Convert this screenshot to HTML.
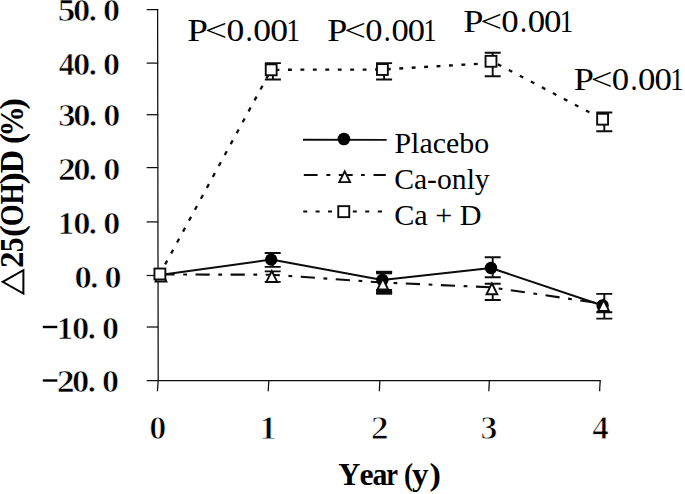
<!DOCTYPE html>
<html><head><meta charset="utf-8"><title>chart</title>
<style>html,body{margin:0;padding:0;background:#fff;}body{width:685px;height:494px;overflow:hidden;font-family:"Liberation Serif",serif;}svg{display:block;}</style>
</head><body>
<svg width="685" height="494" viewBox="0 0 685 494">
<rect width="685" height="494" fill="#fff"/>
<g stroke="#0c0c0c" stroke-width="1.25" fill="none">
<polyline points="157.6,9.0 158.2,380.6 157.4,391.3"/>
<line x1="146.7" y1="380.5" x2="600.8" y2="380.6"/>
<line x1="146.7" y1="9.6" x2="158.2" y2="9.6"/>
<line x1="146.7" y1="63.1" x2="158.2" y2="63.1"/>
<line x1="146.7" y1="114.7" x2="158.2" y2="114.7"/>
<line x1="146.7" y1="167.6" x2="158.2" y2="167.6"/>
<line x1="146.7" y1="221.9" x2="158.2" y2="221.9"/>
<line x1="146.7" y1="275.5" x2="158.2" y2="275.5"/>
<line x1="146.7" y1="327.0" x2="158.2" y2="327.0"/>
<line x1="268.8" y1="380.6" x2="268.2" y2="391.2"/>
<line x1="379.9" y1="380.6" x2="379.29999999999995" y2="391.2"/>
<line x1="489.4" y1="380.6" x2="488.79999999999995" y2="391.2"/>
<line x1="600.2" y1="380.6" x2="599.6" y2="391.2"/>
</g>
<text transform="translate(57.87,21.0) scale(1.0894,1)" font-family="Liberation Serif, serif" font-weight="bold" font-size="32.2" fill="#000" stroke="#fff" stroke-width="0.65">5</text>
<text transform="translate(72.96,21.0) scale(1.0735,1)" font-family="Liberation Serif, serif" font-weight="bold" font-size="32.2" fill="#000" stroke="#fff" stroke-width="0.65">0</text>
<text transform="translate(88.65,21.0) scale(1.0058,1)" font-family="Liberation Serif, serif" font-weight="bold" font-size="32.2" fill="#000" stroke="#fff" stroke-width="0.65">.</text>
<text transform="translate(102.98,21.0) scale(1.0588,1)" font-family="Liberation Serif, serif" font-weight="bold" font-size="32.2" fill="#000" stroke="#fff" stroke-width="0.65">0</text>
<text transform="translate(58.84,74.8) scale(0.9859,1)" font-family="Liberation Serif, serif" font-weight="bold" font-size="32.2" fill="#000" stroke="#fff" stroke-width="0.65">4</text>
<text transform="translate(72.96,74.8) scale(1.0735,1)" font-family="Liberation Serif, serif" font-weight="bold" font-size="32.2" fill="#000" stroke="#fff" stroke-width="0.65">0</text>
<text transform="translate(88.65,74.8) scale(1.0058,1)" font-family="Liberation Serif, serif" font-weight="bold" font-size="32.2" fill="#000" stroke="#fff" stroke-width="0.65">.</text>
<text transform="translate(102.98,74.8) scale(1.0588,1)" font-family="Liberation Serif, serif" font-weight="bold" font-size="32.2" fill="#000" stroke="#fff" stroke-width="0.65">0</text>
<text transform="translate(58.27,126.3) scale(1.0770,1)" font-family="Liberation Serif, serif" font-weight="bold" font-size="32.2" fill="#000" stroke="#fff" stroke-width="0.65">3</text>
<text transform="translate(73.26,126.3) scale(1.0735,1)" font-family="Liberation Serif, serif" font-weight="bold" font-size="32.2" fill="#000" stroke="#fff" stroke-width="0.65">0</text>
<text transform="translate(88.95,126.3) scale(1.0058,1)" font-family="Liberation Serif, serif" font-weight="bold" font-size="32.2" fill="#000" stroke="#fff" stroke-width="0.65">.</text>
<text transform="translate(103.28,126.3) scale(1.0588,1)" font-family="Liberation Serif, serif" font-weight="bold" font-size="32.2" fill="#000" stroke="#fff" stroke-width="0.65">0</text>
<text transform="translate(57.97,180.2) scale(1.1112,1)" font-family="Liberation Serif, serif" font-weight="bold" font-size="32.2" fill="#000" stroke="#fff" stroke-width="0.65">2</text>
<text transform="translate(73.16,180.2) scale(1.0735,1)" font-family="Liberation Serif, serif" font-weight="bold" font-size="32.2" fill="#000" stroke="#fff" stroke-width="0.65">0</text>
<text transform="translate(88.85,180.2) scale(1.0058,1)" font-family="Liberation Serif, serif" font-weight="bold" font-size="32.2" fill="#000" stroke="#fff" stroke-width="0.65">.</text>
<text transform="translate(103.18,180.2) scale(1.0588,1)" font-family="Liberation Serif, serif" font-weight="bold" font-size="32.2" fill="#000" stroke="#fff" stroke-width="0.65">0</text>
<text transform="translate(57.85,233.7) scale(1.0165,1)" font-family="Liberation Serif, serif" font-weight="bold" font-size="32.2" fill="#000" stroke="#fff" stroke-width="0.65">1</text>
<text transform="translate(73.16,233.7) scale(1.0735,1)" font-family="Liberation Serif, serif" font-weight="bold" font-size="32.2" fill="#000" stroke="#fff" stroke-width="0.65">0</text>
<text transform="translate(88.85,233.7) scale(1.0058,1)" font-family="Liberation Serif, serif" font-weight="bold" font-size="32.2" fill="#000" stroke="#fff" stroke-width="0.65">.</text>
<text transform="translate(103.18,233.7) scale(1.0588,1)" font-family="Liberation Serif, serif" font-weight="bold" font-size="32.2" fill="#000" stroke="#fff" stroke-width="0.65">0</text>
<text transform="translate(74.56,287.6) scale(1.0735,1)" font-family="Liberation Serif, serif" font-weight="bold" font-size="32.2" fill="#000" stroke="#fff" stroke-width="0.65">0</text>
<text transform="translate(90.25,287.6) scale(1.0058,1)" font-family="Liberation Serif, serif" font-weight="bold" font-size="32.2" fill="#000" stroke="#fff" stroke-width="0.65">.</text>
<text transform="translate(104.58,287.6) scale(1.0588,1)" font-family="Liberation Serif, serif" font-weight="bold" font-size="32.2" fill="#000" stroke="#fff" stroke-width="0.65">0</text>
<text transform="translate(56.65,339.2) scale(1.0165,1)" font-family="Liberation Serif, serif" font-weight="bold" font-size="32.2" fill="#000" stroke="#fff" stroke-width="0.65">1</text>
<text transform="translate(71.96,339.2) scale(1.0735,1)" font-family="Liberation Serif, serif" font-weight="bold" font-size="32.2" fill="#000" stroke="#fff" stroke-width="0.65">0</text>
<rect x="42.8" y="325.80" width="14.5" height="2.4" fill="#000"/>
<text transform="translate(87.65,339.2) scale(1.0058,1)" font-family="Liberation Serif, serif" font-weight="bold" font-size="32.2" fill="#000" stroke="#fff" stroke-width="0.65">.</text>
<text transform="translate(101.98,339.2) scale(1.0588,1)" font-family="Liberation Serif, serif" font-weight="bold" font-size="32.2" fill="#000" stroke="#fff" stroke-width="0.65">0</text>
<text transform="translate(56.77,392.0) scale(1.1112,1)" font-family="Liberation Serif, serif" font-weight="bold" font-size="32.2" fill="#000" stroke="#fff" stroke-width="0.65">2</text>
<text transform="translate(71.96,392.0) scale(1.0735,1)" font-family="Liberation Serif, serif" font-weight="bold" font-size="32.2" fill="#000" stroke="#fff" stroke-width="0.65">0</text>
<rect x="42.8" y="379.30" width="14.5" height="2.4" fill="#000"/>
<text transform="translate(87.65,392.0) scale(1.0058,1)" font-family="Liberation Serif, serif" font-weight="bold" font-size="32.2" fill="#000" stroke="#fff" stroke-width="0.65">.</text>
<text transform="translate(101.98,392.0) scale(1.0588,1)" font-family="Liberation Serif, serif" font-weight="bold" font-size="32.2" fill="#000" stroke="#fff" stroke-width="0.65">0</text>
<text transform="translate(149.15,438.5) scale(1.0305,1)" font-family="Liberation Serif, serif" font-weight="bold" font-size="33.2" fill="#000" stroke="#fff" stroke-width="0.9">0</text>
<text transform="translate(259.32,438.5) scale(1.0636,1)" font-family="Liberation Serif, serif" font-weight="bold" font-size="33.2" fill="#000" stroke="#fff" stroke-width="0.9">1</text>
<text transform="translate(370.74,438.5) scale(1.0813,1)" font-family="Liberation Serif, serif" font-weight="bold" font-size="33.2" fill="#000" stroke="#fff" stroke-width="0.9">2</text>
<text transform="translate(480.48,438.5) scale(1.0199,1)" font-family="Liberation Serif, serif" font-weight="bold" font-size="33.2" fill="#000" stroke="#fff" stroke-width="0.9">3</text>
<text transform="translate(592.20,438.5) scale(0.9981,1)" font-family="Liberation Serif, serif" font-weight="bold" font-size="33.2" fill="#000" stroke="#fff" stroke-width="0.9">4</text>
<text transform="translate(338.26,484.8) scale(0.9946,1)" font-family="Liberation Serif, serif" font-weight="bold" font-size="30.8" fill="#000">Y</text>
<text transform="translate(359.61,484.8) scale(1.0321,1)" font-family="Liberation Serif, serif" font-weight="bold" font-size="30.8" fill="#000">e</text>
<text transform="translate(372.44,484.8) scale(0.9684,1)" font-family="Liberation Serif, serif" font-weight="bold" font-size="30.8" fill="#000">a</text>
<text transform="translate(386.19,484.8) scale(0.8620,1)" font-family="Liberation Serif, serif" font-weight="bold" font-size="30.8" fill="#000">r</text>
<text transform="translate(404.10,484.8) scale(0.8849,1)" font-family="Liberation Serif, serif" font-weight="bold" font-size="30.8" fill="#000">(</text>
<text transform="translate(411.98,484.8) scale(1.0677,1)" font-family="Liberation Serif, serif" font-weight="bold" font-size="30.8" fill="#000">y</text>
<text transform="translate(429.60,484.8) scale(1.1124,1)" font-family="Liberation Serif, serif" font-weight="bold" font-size="30.8" fill="#000">)</text>
<g transform="translate(23.3,267.3) rotate(-90)">
<text transform="translate(-0.79,0) scale(0.9942,1)" font-family="Liberation Serif, serif" font-weight="bold" font-size="33.2" fill="#000">2</text>
<text transform="translate(15.12,0) scale(0.8894,1)" font-family="Liberation Serif, serif" font-weight="bold" font-size="33.2" fill="#000">5</text>
<text transform="translate(30.34,0) scale(1.0672,1)" font-family="Liberation Serif, serif" font-weight="bold" font-size="33.2" fill="#000">(</text>
<text transform="translate(41.12,0) scale(0.8502,1)" font-family="Liberation Serif, serif" font-weight="bold" font-size="33.2" fill="#000">O</text>
<text transform="translate(62.83,0) scale(0.8257,1)" font-family="Liberation Serif, serif" font-weight="bold" font-size="33.2" fill="#000">H</text>
<text transform="translate(82.81,0) scale(1.1141,1)" font-family="Liberation Serif, serif" font-weight="bold" font-size="33.2" fill="#000">)</text>
<text transform="translate(93.93,0) scale(0.9784,1)" font-family="Liberation Serif, serif" font-weight="bold" font-size="33.2" fill="#000">D</text>
<text transform="translate(123.23,0) scale(1.0086,1)" font-family="Liberation Serif, serif" font-weight="bold" font-size="33.2" fill="#000">(</text>
<text transform="translate(130.70,0) scale(0.9107,1)" font-family="Liberation Serif, serif" font-weight="bold" font-size="33.2" fill="#000">%</text>
<text transform="translate(157.46,0) scale(1.0672,1)" font-family="Liberation Serif, serif" font-weight="bold" font-size="33.2" fill="#000">)</text>
</g>
<path d="M2.7,281.85 L23.4,270.1 L23.4,293.6 Z" fill="none" stroke="#000" stroke-width="2" stroke-linejoin="miter"/>
<text transform="translate(187.33,41.4) scale(1.1394,1)" font-family="Liberation Serif, serif" font-size="32.6" fill="#000">P</text>
<text transform="translate(204.82,41.4) scale(1.2195,1)" font-family="Liberation Serif, serif" font-size="32.6" fill="#000">&lt;</text>
<text transform="translate(226.44,41.4) scale(1.0929,1)" font-family="Liberation Serif, serif" font-size="32.6" fill="#000">0</text>
<text transform="translate(245.50,41.4) scale(0.8826,1)" font-family="Liberation Serif, serif" font-size="32.6" fill="#000">.</text>
<text transform="translate(253.34,41.4) scale(1.0929,1)" font-family="Liberation Serif, serif" font-size="32.6" fill="#000">0</text>
<text transform="translate(270.14,41.4) scale(1.0929,1)" font-family="Liberation Serif, serif" font-size="32.6" fill="#000">0</text>
<text transform="translate(286.28,41.4) scale(0.8452,1)" font-family="Liberation Serif, serif" font-size="32.6" fill="#000">1</text>
<text transform="translate(327.36,41.4) scale(1.1049,1)" font-family="Liberation Serif, serif" font-size="32.6" fill="#000">P</text>
<text transform="translate(344.32,41.4) scale(1.1826,1)" font-family="Liberation Serif, serif" font-size="32.6" fill="#000">&lt;</text>
<text transform="translate(365.29,41.4) scale(1.0598,1)" font-family="Liberation Serif, serif" font-size="32.6" fill="#000">0</text>
<text transform="translate(383.78,41.4) scale(0.8559,1)" font-family="Liberation Serif, serif" font-size="32.6" fill="#000">.</text>
<text transform="translate(391.38,41.4) scale(1.0598,1)" font-family="Liberation Serif, serif" font-size="32.6" fill="#000">0</text>
<text transform="translate(407.67,41.4) scale(1.0598,1)" font-family="Liberation Serif, serif" font-size="32.6" fill="#000">0</text>
<text transform="translate(423.32,41.4) scale(0.8196,1)" font-family="Liberation Serif, serif" font-size="32.6" fill="#000">1</text>
<text transform="translate(463.15,32.2) scale(1.1133,1)" font-family="Liberation Serif, serif" font-size="32.6" fill="#000">P</text>
<text transform="translate(480.24,32.2) scale(1.1916,1)" font-family="Liberation Serif, serif" font-size="32.6" fill="#000">&lt;</text>
<text transform="translate(501.37,32.2) scale(1.0678,1)" font-family="Liberation Serif, serif" font-size="32.6" fill="#000">0</text>
<text transform="translate(519.99,32.2) scale(0.8624,1)" font-family="Liberation Serif, serif" font-size="32.6" fill="#000">.</text>
<text transform="translate(527.65,32.2) scale(1.0678,1)" font-family="Liberation Serif, serif" font-size="32.6" fill="#000">0</text>
<text transform="translate(544.07,32.2) scale(1.0678,1)" font-family="Liberation Serif, serif" font-size="32.6" fill="#000">0</text>
<text transform="translate(559.84,32.2) scale(0.8258,1)" font-family="Liberation Serif, serif" font-size="32.6" fill="#000">1</text>
<text transform="translate(573.66,90.2) scale(1.1112,1)" font-family="Liberation Serif, serif" font-size="32.6" fill="#000">P</text>
<text transform="translate(590.71,90.2) scale(1.1893,1)" font-family="Liberation Serif, serif" font-size="32.6" fill="#000">&lt;</text>
<text transform="translate(611.80,90.2) scale(1.0658,1)" font-family="Liberation Serif, serif" font-size="32.6" fill="#000">0</text>
<text transform="translate(630.39,90.2) scale(0.8608,1)" font-family="Liberation Serif, serif" font-size="32.6" fill="#000">.</text>
<text transform="translate(638.04,90.2) scale(1.0658,1)" font-family="Liberation Serif, serif" font-size="32.6" fill="#000">0</text>
<text transform="translate(654.42,90.2) scale(1.0658,1)" font-family="Liberation Serif, serif" font-size="32.6" fill="#000">0</text>
<text transform="translate(670.16,90.2) scale(0.8243,1)" font-family="Liberation Serif, serif" font-size="32.6" fill="#000">1</text>
<polyline points="159.9,274.0 271.2,69.8" fill="none" stroke="#0c0c0c" stroke-width="2.3" stroke-dasharray="4.3 8.15" stroke-dashoffset="1.5"/>
<line x1="271.2" y1="69.8" x2="382.4" y2="69.5" stroke="#0c0c0c" stroke-width="2.3" stroke-dasharray="3.9 8.55" stroke-dashoffset="-4.3"/>
<line x1="382.4" y1="69.5" x2="491.0" y2="63.0" stroke="#0c0c0c" stroke-width="2.3" stroke-dasharray="3.9 8.55" stroke-dashoffset="-4.45"/>
<line x1="491.0" y1="60.6" x2="602.6" y2="119.2" stroke="#0c0c0c" stroke-width="2.3" stroke-dasharray="3.9 8.55" stroke-dashoffset="-7.65"/>
<polyline points="159.9,274.5 271.2,274.7 382.4,282.5 491.0,287.3 602.6,303.7" fill="none" stroke="#0c0c0c" stroke-width="2.1" stroke-dasharray="14.2 8.6 3.8 8.5" stroke-dashoffset="-0.5"/>
<polyline points="159.9,275.0 271.2,259.6 382.4,280.0 491.0,268.0 602.6,305.5" fill="none" stroke="#0c0c0c" stroke-width="2.05" stroke-linejoin="round"/>
<path d="M272.7,253.0 V266.9 M264.7,253.0 h16.0 M264.7,266.9 h16.0" stroke="#0c0c0c" stroke-width="1.9" fill="none"/>
<path d="M272.7,271.4 V281.9 M264.7,271.4 h16.0 M264.7,281.9 h16.0" stroke="#0c0c0c" stroke-width="1.9" fill="none"/>
<path d="M384.1,272.0 V293.0 M376.1,272.0 h16.0 M376.1,293.0 h16.0" stroke="#0c0c0c" stroke-width="1.9" fill="none"/>
<rect x="376.1" y="270.8" width="16" height="3.5" fill="#0c0c0c"/><rect x="376.1" y="289.0" width="16" height="5.7" fill="#0c0c0c"/>
<path d="M492.7,257.2 V277.3 M484.7,257.2 h16.0 M484.7,277.3 h16.0" stroke="#0c0c0c" stroke-width="1.9" fill="none"/>
<path d="M492.7,283.8 V300.0 M484.7,283.8 h16.0 M484.7,300.0 h16.0" stroke="#0c0c0c" stroke-width="1.9" fill="none"/>
<path d="M604.3,293.9 V318.6 M596.3,293.9 h16.0 M596.3,312.2 h16.0 M596.3,318.6 h16.0" stroke="#0c0c0c" stroke-width="1.9" fill="none"/>
<path d="M272.9,63.1 V79.5 M264.9,63.1 h16.0 M264.9,79.5 h16.0" stroke="#0c0c0c" stroke-width="1.9" fill="none"/>
<path d="M384.1,63.1 V79.5 M376.1,63.1 h16.0 M376.1,79.5 h16.0" stroke="#0c0c0c" stroke-width="1.9" fill="none"/>
<path d="M492.7,52.8 V76.2 M484.7,52.8 h16.0 M484.7,76.2 h16.0" stroke="#0c0c0c" stroke-width="1.9" fill="none"/>
<path d="M604.3,112.5 V131.3 M596.3,112.5 h16.0 M596.3,131.3 h16.0" stroke="#0c0c0c" stroke-width="1.9" fill="none"/>
<circle cx="271.2" cy="259.6" r="6.2" fill="#000"/>
<circle cx="382.4" cy="280.0" r="6.2" fill="#000"/>
<circle cx="491.0" cy="268.0" r="6.2" fill="#000"/>
<circle cx="602.6" cy="305.5" r="6.2" fill="#000"/>
<path d="M161.0,270.60 L166.4,281.45 L155.6,281.45 Z" fill="#fff" stroke="#0c0c0c" stroke-width="1.9" stroke-linejoin="miter"/>
<path d="M271.8,271.10 L277.2,281.95 L266.40000000000003,281.95 Z" fill="#fff" stroke="#0c0c0c" stroke-width="1.9" stroke-linejoin="miter"/>
<path d="M382.79999999999995,278.70 L388.19999999999993,289.55 L377.4,289.55 Z" fill="#fff" stroke="#0c0c0c" stroke-width="1.9" stroke-linejoin="miter"/>
<path d="M491.9,283.40 L497.29999999999995,294.25 L486.5,294.25 Z" fill="#fff" stroke="#0c0c0c" stroke-width="1.9" stroke-linejoin="miter"/>
<path d="M603.6,300.10 L609.0,310.95 L598.2,310.95 Z" fill="#fff" stroke="#0c0c0c" stroke-width="1.9" stroke-linejoin="miter"/>
<rect x="154.45" y="268.55" width="10.9" height="10.9" fill="#fff" stroke="#0c0c0c" stroke-width="1.9"/>
<rect x="265.75" y="64.35" width="10.9" height="10.9" fill="#fff" stroke="#0c0c0c" stroke-width="1.9"/>
<rect x="376.95" y="64.05" width="10.9" height="10.9" fill="#fff" stroke="#0c0c0c" stroke-width="1.9"/>
<rect x="485.55" y="55.85" width="10.9" height="10.9" fill="#fff" stroke="#0c0c0c" stroke-width="1.9"/>
<rect x="597.15" y="113.75" width="10.9" height="10.9" fill="#fff" stroke="#0c0c0c" stroke-width="1.9"/>
<g stroke="#0c0c0c" fill="none">
<line x1="303" y1="139.7" x2="386.7" y2="139.9" stroke-width="1.9"/>
<path d="M303.8,174.9 h13.8 M326.4,174.9 h3.9 M338.8,174.9 h13.9 M361,174.9 h3.8 M373.5,174.9 h12.3" stroke-width="2.0"/>
<path d="M303.2,211.4 h4 M315.6,211.4 h4 M328,211.4 h4 M352.8,211.4 h4 M365.2,211.4 h4 M377.8,211.4 h4.2" stroke-width="2.0"/>
</g>
<circle cx="343.9" cy="139.0" r="6.3" fill="#000"/>
<path d="M344.7,171.30 L350.09999999999997,182.15 L339.3,182.15 Z" fill="#fff" stroke="#0c0c0c" stroke-width="1.9" stroke-linejoin="miter"/>
<rect x="338.25" y="206.15" width="11.0" height="11.0" fill="#fff" stroke="#0c0c0c" stroke-width="1.9"/>
<g font-family="Liberation Serif, serif" font-size="29.3" fill="#000">
<text x="394.5" y="152.6" textLength="94.6" lengthAdjust="spacingAndGlyphs">Placebo</text>
<text x="394.2" y="189.1" textLength="95.5" lengthAdjust="spacingAndGlyphs">Ca-only</text>
<text x="394.2" y="225.3" textLength="87.4" lengthAdjust="spacingAndGlyphs">Ca + D</text>
</g>
</svg>
</body></html>
